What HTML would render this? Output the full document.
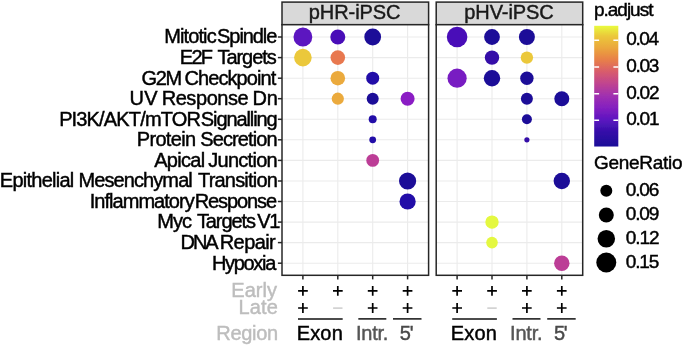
<!DOCTYPE html>
<html lang="en"><head><meta charset="utf-8"><title>Dot plot</title>
<style>html,body{margin:0;padding:0;background:#fff}body{width:685px;height:348px;overflow:hidden}svg{display:block}text{font-family:"Liberation Sans",Arial,Helvetica,sans-serif;font-size:20px}</style></head><body>
<svg width="685" height="348" viewBox="0 0 685 348">
<defs><linearGradient id="pl" x1="0" y1="0" x2="0" y2="1">
<stop offset="0.000" stop-color="#e9fb3d"/>
<stop offset="0.085" stop-color="#ebc83a"/>
<stop offset="0.180" stop-color="#eba83c"/>
<stop offset="0.280" stop-color="#e88048"/>
<stop offset="0.380" stop-color="#d85c6c"/>
<stop offset="0.480" stop-color="#c04490"/>
<stop offset="0.580" stop-color="#a030b0"/>
<stop offset="0.680" stop-color="#8420c0"/>
<stop offset="0.780" stop-color="#5c14c0"/>
<stop offset="0.880" stop-color="#3410a8"/>
<stop offset="1.000" stop-color="#1c0c98"/>
</linearGradient><filter id="soft" x="0" y="0" width="685" height="348" filterUnits="userSpaceOnUse"><feGaussianBlur stdDeviation="0.4"/></filter></defs>
<rect width="685" height="348" fill="#fff"/>
<g filter="url(#soft)">
<rect x="282.0" y="2.1" width="146.6" height="22.6" fill="#d9d9d9" stroke="#262626" stroke-width="1.5"/>
<text x="308.77" y="18.8" letter-spacing="-0.07" fill="#1a1a1a" stroke="#1a1a1a" stroke-width="0.45">pHR-iPSC</text>
<rect x="282.0" y="24.7" width="146.6" height="250.6" fill="#fff"/>
<line x1="302.9" y1="24.7" x2="302.9" y2="275.3" stroke="#ebebeb" stroke-width="1.1"/>
<line x1="337.8" y1="24.7" x2="337.8" y2="275.3" stroke="#ebebeb" stroke-width="1.1"/>
<line x1="372.7" y1="24.7" x2="372.7" y2="275.3" stroke="#ebebeb" stroke-width="1.1"/>
<line x1="407.6" y1="24.7" x2="407.6" y2="275.3" stroke="#ebebeb" stroke-width="1.1"/>
<line x1="282.0" y1="37.0" x2="428.6" y2="37.0" stroke="#ebebeb" stroke-width="1.1"/>
<line x1="282.0" y1="57.6" x2="428.6" y2="57.6" stroke="#ebebeb" stroke-width="1.1"/>
<line x1="282.0" y1="78.2" x2="428.6" y2="78.2" stroke="#ebebeb" stroke-width="1.1"/>
<line x1="282.0" y1="98.7" x2="428.6" y2="98.7" stroke="#ebebeb" stroke-width="1.1"/>
<line x1="282.0" y1="119.3" x2="428.6" y2="119.3" stroke="#ebebeb" stroke-width="1.1"/>
<line x1="282.0" y1="139.8" x2="428.6" y2="139.8" stroke="#ebebeb" stroke-width="1.1"/>
<line x1="282.0" y1="160.4" x2="428.6" y2="160.4" stroke="#ebebeb" stroke-width="1.1"/>
<line x1="282.0" y1="181.0" x2="428.6" y2="181.0" stroke="#ebebeb" stroke-width="1.1"/>
<line x1="282.0" y1="201.5" x2="428.6" y2="201.5" stroke="#ebebeb" stroke-width="1.1"/>
<line x1="282.0" y1="222.1" x2="428.6" y2="222.1" stroke="#ebebeb" stroke-width="1.1"/>
<line x1="282.0" y1="242.6" x2="428.6" y2="242.6" stroke="#ebebeb" stroke-width="1.1"/>
<line x1="282.0" y1="263.2" x2="428.6" y2="263.2" stroke="#ebebeb" stroke-width="1.1"/>
<circle cx="302.9" cy="37.0" r="9.4" fill="#5b12c0"/>
<circle cx="337.8" cy="37.0" r="7.5" fill="#4a10b8"/>
<circle cx="372.7" cy="37.0" r="8.4" fill="#1c0c98"/>
<circle cx="302.9" cy="57.6" r="8.8" fill="#ebc83a"/>
<circle cx="337.8" cy="57.6" r="7.3" fill="#e87850"/>
<circle cx="337.8" cy="78.2" r="7.3" fill="#ebaa3c"/>
<circle cx="372.7" cy="78.2" r="6.5" fill="#2410a8"/>
<circle cx="337.8" cy="98.7" r="6.1" fill="#ebaa3c"/>
<circle cx="372.7" cy="98.7" r="6.0" fill="#1c0c98"/>
<circle cx="407.6" cy="98.7" r="7.0" fill="#8a1cc4"/>
<circle cx="372.7" cy="119.3" r="4.0" fill="#2410a8"/>
<circle cx="372.7" cy="139.8" r="3.4" fill="#2410a8"/>
<circle cx="372.7" cy="160.4" r="6.4" fill="#bc3c96"/>
<circle cx="407.6" cy="181.0" r="8.6" fill="#1c0c98"/>
<circle cx="407.6" cy="201.5" r="8.1" fill="#2410a8"/>
<rect x="282.0" y="24.7" width="146.6" height="250.6" fill="none" stroke="#262626" stroke-width="1.5"/>
<line x1="302.9" y1="275.3" x2="302.9" y2="279.4" stroke="#262626" stroke-width="1.5"/>
<line x1="337.8" y1="275.3" x2="337.8" y2="279.4" stroke="#262626" stroke-width="1.5"/>
<line x1="372.7" y1="275.3" x2="372.7" y2="279.4" stroke="#262626" stroke-width="1.5"/>
<line x1="407.6" y1="275.3" x2="407.6" y2="279.4" stroke="#262626" stroke-width="1.5"/>
<path d="M298.1 290.9H307.8M302.9 286.0V295.8" stroke="#000" stroke-width="1.7" fill="none"/>
<path d="M298.1 308.0H307.8M302.9 303.1V312.9" stroke="#000" stroke-width="1.7" fill="none"/>
<path d="M333.0 290.9H342.7M337.8 286.0V295.8" stroke="#000" stroke-width="1.7" fill="none"/>
<path d="M333.1 308.1H342.5" stroke="#c4c4c4" stroke-width="1.3" fill="none"/>
<path d="M367.8 290.9H377.5M372.7 286.0V295.8" stroke="#000" stroke-width="1.7" fill="none"/>
<path d="M367.8 308.0H377.5M372.7 303.1V312.9" stroke="#000" stroke-width="1.7" fill="none"/>
<path d="M402.7 290.9H412.4M407.6 286.0V295.8" stroke="#000" stroke-width="1.7" fill="none"/>
<path d="M402.7 308.0H412.4M407.6 303.1V312.9" stroke="#000" stroke-width="1.7" fill="none"/>
<line x1="298.0" y1="318.9" x2="342.7" y2="318.9" stroke="#111" stroke-width="1.5"/>
<line x1="358.3" y1="318.9" x2="386.3" y2="318.9" stroke="#111" stroke-width="1.5"/>
<line x1="393.0" y1="318.9" x2="421.5" y2="318.9" stroke="#111" stroke-width="1.5"/>
<text x="296.63" y="340.0" letter-spacing="0.18" fill="#000" stroke="#000" stroke-width="0.45">Exon</text>
<text x="355.91" y="340.0" letter-spacing="-0.22" fill="#555" stroke="#555" stroke-width="0.45">Intr.</text>
<text x="399.82" y="340.0" letter-spacing="-1.31" fill="#4a4a4a" stroke="#4a4a4a" stroke-width="0.45">5'</text>
<rect x="436.2" y="2.1" width="146.5" height="22.6" fill="#d9d9d9" stroke="#262626" stroke-width="1.5"/>
<text x="464.27" y="18.8" letter-spacing="-0.08" fill="#1a1a1a" stroke="#1a1a1a" stroke-width="0.45">pHV-iPSC</text>
<rect x="436.2" y="24.7" width="146.5" height="250.6" fill="#fff"/>
<line x1="457.1" y1="24.7" x2="457.1" y2="275.3" stroke="#ebebeb" stroke-width="1.1"/>
<line x1="492.0" y1="24.7" x2="492.0" y2="275.3" stroke="#ebebeb" stroke-width="1.1"/>
<line x1="526.9" y1="24.7" x2="526.9" y2="275.3" stroke="#ebebeb" stroke-width="1.1"/>
<line x1="561.8" y1="24.7" x2="561.8" y2="275.3" stroke="#ebebeb" stroke-width="1.1"/>
<line x1="436.2" y1="37.0" x2="582.7" y2="37.0" stroke="#ebebeb" stroke-width="1.1"/>
<line x1="436.2" y1="57.6" x2="582.7" y2="57.6" stroke="#ebebeb" stroke-width="1.1"/>
<line x1="436.2" y1="78.2" x2="582.7" y2="78.2" stroke="#ebebeb" stroke-width="1.1"/>
<line x1="436.2" y1="98.7" x2="582.7" y2="98.7" stroke="#ebebeb" stroke-width="1.1"/>
<line x1="436.2" y1="119.3" x2="582.7" y2="119.3" stroke="#ebebeb" stroke-width="1.1"/>
<line x1="436.2" y1="139.8" x2="582.7" y2="139.8" stroke="#ebebeb" stroke-width="1.1"/>
<line x1="436.2" y1="160.4" x2="582.7" y2="160.4" stroke="#ebebeb" stroke-width="1.1"/>
<line x1="436.2" y1="181.0" x2="582.7" y2="181.0" stroke="#ebebeb" stroke-width="1.1"/>
<line x1="436.2" y1="201.5" x2="582.7" y2="201.5" stroke="#ebebeb" stroke-width="1.1"/>
<line x1="436.2" y1="222.1" x2="582.7" y2="222.1" stroke="#ebebeb" stroke-width="1.1"/>
<line x1="436.2" y1="242.6" x2="582.7" y2="242.6" stroke="#ebebeb" stroke-width="1.1"/>
<line x1="436.2" y1="263.2" x2="582.7" y2="263.2" stroke="#ebebeb" stroke-width="1.1"/>
<circle cx="457.1" cy="37.0" r="10.3" fill="#4a10b8"/>
<circle cx="492.0" cy="37.0" r="7.9" fill="#1c0c98"/>
<circle cx="526.9" cy="37.0" r="8.0" fill="#1c0c98"/>
<circle cx="492.0" cy="57.6" r="7.2" fill="#3410a8"/>
<circle cx="526.9" cy="57.6" r="6.2" fill="#ebc83a"/>
<circle cx="457.1" cy="78.2" r="9.6" fill="#781ac2"/>
<circle cx="492.0" cy="78.2" r="8.2" fill="#1c0c98"/>
<circle cx="526.9" cy="78.2" r="6.7" fill="#1c0c98"/>
<circle cx="526.9" cy="98.7" r="6.0" fill="#1c0c98"/>
<circle cx="561.8" cy="98.7" r="7.5" fill="#1c0c98"/>
<circle cx="526.9" cy="119.3" r="5.0" fill="#1c0c98"/>
<circle cx="526.9" cy="139.8" r="2.6" fill="#3410a8"/>
<circle cx="561.8" cy="181.0" r="8.2" fill="#1c0c98"/>
<circle cx="492.0" cy="222.1" r="6.7" fill="#e4f840"/>
<circle cx="492.0" cy="242.6" r="5.8" fill="#e4f840"/>
<circle cx="561.8" cy="263.2" r="7.7" fill="#bc3c96"/>
<rect x="436.2" y="24.7" width="146.5" height="250.6" fill="none" stroke="#262626" stroke-width="1.5"/>
<line x1="457.1" y1="275.3" x2="457.1" y2="279.4" stroke="#262626" stroke-width="1.5"/>
<line x1="492.0" y1="275.3" x2="492.0" y2="279.4" stroke="#262626" stroke-width="1.5"/>
<line x1="526.9" y1="275.3" x2="526.9" y2="279.4" stroke="#262626" stroke-width="1.5"/>
<line x1="561.8" y1="275.3" x2="561.8" y2="279.4" stroke="#262626" stroke-width="1.5"/>
<path d="M452.3 290.9H462.0M457.1 286.0V295.8" stroke="#000" stroke-width="1.7" fill="none"/>
<path d="M452.3 308.0H462.0M457.1 303.1V312.9" stroke="#000" stroke-width="1.7" fill="none"/>
<path d="M487.2 290.9H496.9M492.0 286.0V295.8" stroke="#000" stroke-width="1.7" fill="none"/>
<path d="M487.3 308.1H496.7" stroke="#c4c4c4" stroke-width="1.3" fill="none"/>
<path d="M522.0 290.9H531.7M526.9 286.0V295.8" stroke="#000" stroke-width="1.7" fill="none"/>
<path d="M522.0 308.0H531.7M526.9 303.1V312.9" stroke="#000" stroke-width="1.7" fill="none"/>
<path d="M556.9 290.9H566.6M561.8 286.0V295.8" stroke="#000" stroke-width="1.7" fill="none"/>
<path d="M556.9 308.0H566.6M561.8 303.1V312.9" stroke="#000" stroke-width="1.7" fill="none"/>
<line x1="452.2" y1="318.9" x2="496.9" y2="318.9" stroke="#111" stroke-width="1.5"/>
<line x1="512.5" y1="318.9" x2="540.5" y2="318.9" stroke="#111" stroke-width="1.5"/>
<line x1="547.2" y1="318.9" x2="575.7" y2="318.9" stroke="#111" stroke-width="1.5"/>
<text x="450.83" y="340.0" letter-spacing="0.18" fill="#000" stroke="#000" stroke-width="0.45">Exon</text>
<text x="510.11" y="340.0" letter-spacing="-0.22" fill="#555" stroke="#555" stroke-width="0.45">Intr.</text>
<text x="554.02" y="340.0" letter-spacing="-1.31" fill="#4a4a4a" stroke="#4a4a4a" stroke-width="0.45">5'</text>
<line x1="277.9" y1="37.0" x2="282.0" y2="37.0" stroke="#262626" stroke-width="1.5"/>
<text y="43.3" fill="#000" stroke="#000" stroke-width="0.45"><tspan x="164.13" letter-spacing="-0.88">Mitotic</tspan> <tspan x="217.11" letter-spacing="-1.08">Spindle</tspan></text>
<line x1="277.9" y1="57.6" x2="282.0" y2="57.6" stroke="#262626" stroke-width="1.5"/>
<text y="63.9" fill="#000" stroke="#000" stroke-width="0.45"><tspan x="179.73" letter-spacing="-1.66">E2F</tspan> <tspan x="217.46" letter-spacing="-1.04">Targets</tspan></text>
<line x1="277.9" y1="78.2" x2="282.0" y2="78.2" stroke="#262626" stroke-width="1.5"/>
<text y="84.5" fill="#000" stroke="#000" stroke-width="0.45"><tspan x="141.40" letter-spacing="-1.28">G2M</tspan> <tspan x="184.40" letter-spacing="-0.90">Checkpoint</tspan></text>
<line x1="277.9" y1="98.7" x2="282.0" y2="98.7" stroke="#262626" stroke-width="1.5"/>
<text y="105.0" fill="#000" stroke="#000" stroke-width="0.45"><tspan x="129.44" letter-spacing="0.39">UV</tspan> <tspan x="161.63" letter-spacing="-0.42">Response</tspan> <tspan x="252.43" letter-spacing="-0.17">Dn</tspan></text>
<line x1="277.9" y1="119.3" x2="282.0" y2="119.3" stroke="#262626" stroke-width="1.5"/>
<text y="125.6" fill="#000" stroke="#000" stroke-width="0.45"><tspan x="59.13" letter-spacing="-0.84">PI3K/AKT/mTOR</tspan> <tspan x="200.81" letter-spacing="-1.10">Signalling</tspan></text>
<line x1="277.9" y1="139.8" x2="282.0" y2="139.8" stroke="#262626" stroke-width="1.5"/>
<text y="146.2" fill="#000" stroke="#000" stroke-width="0.45"><tspan x="136.73" letter-spacing="-0.66">Protein</tspan> <tspan x="200.31" letter-spacing="-0.89">Secretion</tspan></text>
<line x1="277.9" y1="160.4" x2="282.0" y2="160.4" stroke="#262626" stroke-width="1.5"/>
<text y="166.7" fill="#000" stroke="#000" stroke-width="0.45"><tspan x="154.20" letter-spacing="-0.70">Apical</tspan> <tspan x="208.27" letter-spacing="-0.73">Junction</tspan></text>
<line x1="277.9" y1="181.0" x2="282.0" y2="181.0" stroke="#262626" stroke-width="1.5"/>
<text y="187.3" fill="#000" stroke="#000" stroke-width="0.45"><tspan x="-0.17" letter-spacing="-0.75">Epithelial</tspan> <tspan x="78.43" letter-spacing="-0.90">Mesenchymal</tspan> <tspan x="197.96" letter-spacing="-0.80">Transition</tspan></text>
<line x1="277.9" y1="201.5" x2="282.0" y2="201.5" stroke="#262626" stroke-width="1.5"/>
<text y="207.8" fill="#000" stroke="#000" stroke-width="0.45"><tspan x="89.71" letter-spacing="-0.96">Inflammatory</tspan> <tspan x="194.63" letter-spacing="-1.08">Response</tspan></text>
<line x1="277.9" y1="222.1" x2="282.0" y2="222.1" stroke="#262626" stroke-width="1.5"/>
<text y="228.4" fill="#000" stroke="#000" stroke-width="0.45"><tspan x="157.33" letter-spacing="-1.02">Myc</tspan> <tspan x="196.96" letter-spacing="-1.11">Targets</tspan> <tspan x="257.19" letter-spacing="-1.23">V1</tspan></text>
<line x1="277.9" y1="242.6" x2="282.0" y2="242.6" stroke="#262626" stroke-width="1.5"/>
<text y="248.9" fill="#000" stroke="#000" stroke-width="0.45"><tspan x="180.53" letter-spacing="-2.08">DNA</tspan> <tspan x="219.73" letter-spacing="-0.58">Repair</tspan></text>
<line x1="277.9" y1="263.2" x2="282.0" y2="263.2" stroke="#262626" stroke-width="1.5"/>
<text y="269.5" fill="#000" stroke="#000" stroke-width="0.45"><tspan x="211.93" letter-spacing="-1.31">Hypoxia</tspan></text>
<text x="231.33" y="296.8" letter-spacing="0.00" fill="#bdbdbd" stroke="#bdbdbd" stroke-width="0.45">Early</text>
<text x="238.53" y="314.4" letter-spacing="0.12" fill="#bdbdbd" stroke="#bdbdbd" stroke-width="0.45">Late</text>
<text x="216.23" y="340.0" letter-spacing="-0.27" fill="#bdbdbd" stroke="#bdbdbd" stroke-width="0.45">Region</text>
<text x="593.93" y="16.3" letter-spacing="-1.00" style="font-size:19px" fill="#000" stroke="#000" stroke-width="0.45">p.adjust</text>
<rect x="594.2" y="25.8" width="24.1" height="120.7" fill="url(#pl)"/>
<path d="M594.2 40.3h4.9M613.4 40.3h4.9" stroke="#fff" stroke-width="1.6"/>
<text x="626.26" y="45.2" letter-spacing="-1.39" style="font-size:19px" fill="#000" stroke="#000" stroke-width="0.45">0.04</text>
<path d="M594.2 67.0h4.9M613.4 67.0h4.9" stroke="#fff" stroke-width="1.6"/>
<text x="626.26" y="71.9" letter-spacing="-1.29" style="font-size:19px" fill="#000" stroke="#000" stroke-width="0.45">0.03</text>
<path d="M594.2 93.7h4.9M613.4 93.7h4.9" stroke="#fff" stroke-width="1.6"/>
<text x="626.26" y="98.6" letter-spacing="-1.25" style="font-size:19px" fill="#000" stroke="#000" stroke-width="0.45">0.02</text>
<path d="M594.2 120.3h4.9M613.4 120.3h4.9" stroke="#fff" stroke-width="1.6"/>
<text x="626.26" y="125.2" letter-spacing="-1.25" style="font-size:19px" fill="#000" stroke="#000" stroke-width="0.45">0.01</text>
<text x="594.05" y="169.4" letter-spacing="-0.29" style="font-size:19px" fill="#000" stroke="#000" stroke-width="0.45">GeneRatio</text>
<circle cx="606.3" cy="190.8" r="6.00" fill="#000"/>
<text x="625.76" y="195.9" letter-spacing="-1.12" style="font-size:19px" fill="#000" stroke="#000" stroke-width="0.45">0.06</text>
<circle cx="606.3" cy="215.0" r="7.50" fill="#000"/>
<text x="625.76" y="220.1" letter-spacing="-1.12" style="font-size:19px" fill="#000" stroke="#000" stroke-width="0.45">0.09</text>
<circle cx="606.3" cy="238.8" r="8.75" fill="#000"/>
<text x="625.76" y="243.9" letter-spacing="-1.09" style="font-size:19px" fill="#000" stroke="#000" stroke-width="0.45">0.12</text>
<circle cx="606.3" cy="262.5" r="10.00" fill="#000"/>
<text x="625.76" y="267.6" letter-spacing="-1.16" style="font-size:19px" fill="#000" stroke="#000" stroke-width="0.45">0.15</text>
</g>
</svg></body></html>
